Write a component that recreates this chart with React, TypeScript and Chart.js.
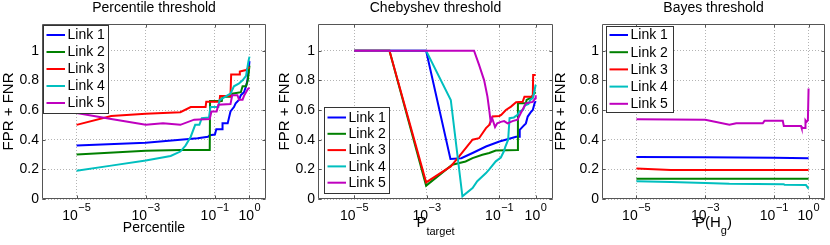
import { useEffect, useRef } from 'react';
import { Chart, registerables } from 'chart.js';

Chart.register(...registerables);

const FONT = '"Liberation Sans", Arial, Helvetica, sans-serif';

const LINK_LABELS = ['Link 1', 'Link 2', 'Link 3', 'Link 4', 'Link 5'];
const LINK_COLORS = ['#0000ff', '#008000', '#ff0000', '#00bfbf', '#bf00bf'];

const X_TICKS = [1e-5, 1e-3, 1e-1, 1];
const X_TICK_BASE = '10';
const X_TICK_EXPONENTS = ['−5', '−3', '−1', '0'];
const Y_TICKS = [0, 0.2, 0.4, 0.6, 0.8, 1];
const Y_TICK_LABELS = ['0', '0.2', '0.4', '0.6', '0.8', '1'];
const X_MIN = 1e-6;
const X_MAX = 3;
const Y_MIN = 0;
const Y_MAX = 1.18;

// ---- Percentile threshold ----
const PCT_X1 = [1e-5, 1e-3, 0.01, 0.0316, 0.0631, 0.0708, 0.1, 0.1096, 0.162, 0.166, 0.234, 0.282, 0.355, 0.398, 0.501, 0.562, 0.692, 0.794, 0.871, 0.933, 1];
const PCT_Y1 = [0.36, 0.38, 0.40, 0.41, 0.42, 0.43, 0.435, 0.47, 0.47, 0.51, 0.51, 0.59, 0.62, 0.645, 0.67, 0.70, 0.72, 0.76, 0.80, 0.86, 0.93];
const PCT_X2 = [1e-5, 1e-3, 0.01, 0.0708, 0.0724, 0.158, 0.166, 0.282, 0.316, 0.562, 0.631, 0.794, 0.891, 1];
const PCT_Y2 = [0.30, 0.325, 0.33, 0.33, 0.66, 0.66, 0.69, 0.69, 0.71, 0.72, 0.76, 0.76, 0.80, 0.90];
const PCT_X3 = [1e-5, 1e-4, 1e-3, 0.01, 0.02, 0.0537, 0.0562, 0.135, 0.141, 0.282, 0.295, 0.501, 0.525, 0.794, 0.891, 1];
const PCT_Y3 = [0.50, 0.56, 0.575, 0.585, 0.62, 0.62, 0.655, 0.655, 0.695, 0.695, 0.84, 0.84, 0.86, 0.87, 0.88, 0.89];
const PCT_X4 = [1e-5, 1e-4, 1e-3, 0.00525, 0.01, 0.0141, 0.02, 0.0269, 0.0355, 0.0417, 0.0676, 0.0741, 0.126, 0.135, 0.2, 0.282, 0.355, 0.501, 0.631, 0.794, 0.933, 1];
const PCT_Y4 = [0.19, 0.225, 0.26, 0.29, 0.32, 0.36, 0.42, 0.50, 0.50, 0.545, 0.55, 0.62, 0.62, 0.665, 0.69, 0.71, 0.76, 0.78, 0.80, 0.83, 0.93, 0.96];
const PCT_X5 = [1e-5, 1e-4, 1e-3, 0.00316, 0.01, 0.0251, 0.0708, 0.0794, 0.112, 0.126, 0.282, 0.316, 0.447, 0.501, 0.631, 0.708, 0.891, 1];
const PCT_Y5 = [0.58, 0.54, 0.50, 0.51, 0.50, 0.535, 0.54, 0.59, 0.59, 0.635, 0.64, 0.70, 0.70, 0.67, 0.67, 0.70, 0.74, 0.75];

// ---- Chebyshev threshold ----
const CHE_X1 = [1e-5, 9.55e-4, 0.00447, 0.00891, 0.0182, 0.0427, 0.1, 0.186, 0.288, 0.355, 0.363, 0.447, 0.537, 0.603, 0.759, 0.832, 0.933, 1];
const CHE_Y1 = [1, 1, 0.27, 0.275, 0.31, 0.354, 0.388, 0.406, 0.42, 0.42, 0.466, 0.49, 0.51, 0.556, 0.59, 0.60, 0.646, 0.66];
const CHE_X2 = [1e-5, 9.33e-5, 9.55e-4, 0.00501, 0.0117, 0.0182, 0.0339, 0.0525, 0.0794, 0.316, 0.324, 0.537, 0.562, 0.759, 0.891, 1];
const CHE_Y2 = [1, 1, 0.09, 0.231, 0.253, 0.276, 0.298, 0.31, 0.327, 0.33, 0.646, 0.646, 0.668, 0.685, 0.71, 0.72];
const CHE_X3 = [1e-5, 9.33e-5, 9.55e-4, 0.00457, 0.00776, 0.0182, 0.0275, 0.0427, 0.0525, 0.0646, 0.1, 0.112, 0.151, 0.209, 0.288, 0.437, 0.49, 0.832, 0.851, 1];
const CHE_Y3 = [1, 1, 0.112, 0.22, 0.287, 0.40, 0.41, 0.478, 0.50, 0.556, 0.56, 0.567, 0.60, 0.623, 0.652, 0.655, 0.69, 0.69, 0.836, 0.836];
const CHE_X4 = [1e-5, 9.55e-4, 0.00457, 0.00955, 0.0182, 0.0245, 0.0427, 0.0525, 0.0794, 0.1096, 0.132, 0.1445, 0.174, 0.1905, 0.251, 0.316, 0.355, 0.447, 0.501, 0.631, 0.708, 0.832, 0.891, 1];
const CHE_Y4 = [1, 1, 0.668, 0.018, 0.074, 0.12, 0.175, 0.20, 0.254, 0.28, 0.32, 0.35, 0.40, 0.545, 0.55, 0.567, 0.59, 0.60, 0.63, 0.64, 0.668, 0.68, 0.71, 0.77];
const CHE_X5 = [1e-5, 0.02, 0.0275, 0.038, 0.0468, 0.0525, 0.0575, 0.0631, 0.0759, 0.0871, 0.1096, 0.1349, 0.168, 0.229, 0.316, 0.389, 0.537, 0.832, 0.977, 1];
const CHE_Y5 = [1, 1, 0.904, 0.80, 0.69, 0.60, 0.52, 0.545, 0.485, 0.51, 0.52, 0.525, 0.51, 0.525, 0.535, 0.58, 0.645, 0.655, 0.68, 0.70];

// ---- Bayes threshold ----
const BAY_X1 = [1e-5, 1e-3, 0.1, 1];
const BAY_Y1 = [0.283, 0.281, 0.278, 0.274];
const BAY_X2 = [1e-5, 1e-3, 1];
const BAY_Y2 = [0.137, 0.136, 0.136];
const BAY_X3 = [1e-5, 1e-4, 1];
const BAY_Y3 = [0.205, 0.196, 0.195];
const BAY_X4 = [1e-5, 1e-4, 1e-3, 0.005, 0.19, 0.2, 0.84, 0.9, 1];
const BAY_Y4 = [0.119, 0.114, 0.108, 0.103, 0.10, 0.096, 0.094, 0.085, 0.07];
const BAY_X5 = [1e-5, 1e-3, 0.00501, 0.00794, 0.0468, 0.0525, 0.178, 0.191, 0.603, 0.631, 0.8, 0.813, 0.871, 0.955, 1];
const BAY_Y5 = [0.538, 0.534, 0.50, 0.511, 0.511, 0.527, 0.527, 0.493, 0.493, 0.478, 0.478, 0.53, 0.52, 0.53, 0.745];

type Seg = { text: string; size: number; dy: number };

const PANELS = [
  {
    title: 'Percentile threshold',
    xTitle: 'Percentile',
    xSegments: null as Seg[] | null,
    left: 42,
    right: 266,
    yAxisW: 42,
    legend: { x: 43, y: 25, w: 65, h: 88, row0: 35, rowH: 17 },
    series: [[PCT_X1, PCT_Y1], [PCT_X2, PCT_Y2], [PCT_X3, PCT_Y3], [PCT_X4, PCT_Y4], [PCT_X5, PCT_Y5]],
  },
  {
    title: 'Chebyshev threshold',
    xTitle: '',
    xSegments: [
      { text: 'P', size: 15, dy: 0 },
      { text: 'target', size: 11, dy: 8.5 },
    ],
    left: 318,
    right: 553,
    yAxisW: 42,
    legend: { x: 324, y: 107, w: 65, h: 86, row0: 117.5, rowH: 16.3 },
    series: [[CHE_X1, CHE_Y1], [CHE_X2, CHE_Y2], [CHE_X3, CHE_Y3], [CHE_X4, CHE_Y4], [CHE_X5, CHE_Y5]],
  },
  {
    title: 'Bayes threshold',
    xTitle: '',
    xSegments: [
      { text: 'P(H', size: 15, dy: 0 },
      { text: 'g', size: 11, dy: 7.5 },
      { text: ')', size: 15, dy: 0 },
    ],
    left: 602,
    right: 825,
    yAxisW: 50,
    legend: { x: 606, y: 26, w: 67, h: 86, row0: 35, rowH: 17.2 },
    series: [[BAY_X1, BAY_Y1], [BAY_X2, BAY_Y2], [BAY_X3, BAY_Y3], [BAY_X4, BAY_Y4], [BAY_X5, BAY_Y5]],
  },
];

const W = 830;
const H = 245;
const PLOT_TOP = 24;
const PLOT_BOTTOM = 199;

const framePlugin = {
  id: 'mframe',
  afterDraw(chart: any) {
    const { ctx, chartArea } = chart;
    const l = Math.round(chartArea.left) + 0.5;
    const r = Math.round(chartArea.right) - 0.5;
    const t = Math.round(chartArea.top) + 0.5;
    const b = Math.round(chartArea.bottom) - 0.5;
    ctx.save();
    ctx.strokeStyle = '#555555';
    ctx.lineWidth = 1;
    ctx.beginPath();
    ctx.rect(l, t, r - l, b - t);
    const tl = 3;
    const xs = chart.scales.x;
    for (const tk of xs.ticks) {
      const px = Math.round(xs.getPixelForValue(tk.value)) + 0.5;
      ctx.moveTo(px, b);
      ctx.lineTo(px, b - tl);
      ctx.moveTo(px, t);
      ctx.lineTo(px, t + tl);
    }
    const ys = chart.scales.y;
    for (const tk of ys.ticks) {
      const py = Math.round(ys.getPixelForValue(tk.value)) + 0.5;
      ctx.moveTo(l, py);
      ctx.lineTo(l + tl, py);
      ctx.moveTo(r, py);
      ctx.lineTo(r - tl, py);
    }
    ctx.stroke();
    ctx.restore();
  },
};

// Log-axis tick labels drawn as "10" with a raised exponent.
const powerTickPlugin = {
  id: 'mpowticks',
  afterDraw(chart: any) {
    const { ctx } = chart;
    const xs = chart.scales.x;
    ctx.save();
    ctx.fillStyle = '#000000';
    ctx.textBaseline = 'alphabetic';
    ctx.textAlign = 'left';
    const baseY = 219.5;
    xs.ticks.forEach((tk: any, i: number) => {
      const px = xs.getPixelForValue(tk.value);
      ctx.font = `14px ${FONT}`;
      const wb = ctx.measureText(X_TICK_BASE).width;
      ctx.font = `11px ${FONT}`;
      const exp = X_TICK_EXPONENTS[i];
      const we = ctx.measureText(exp).width;
      const x0 = px - (wb + we + 0.5) / 2;
      ctx.font = `14px ${FONT}`;
      ctx.fillText(X_TICK_BASE, x0, baseY);
      ctx.font = `11px ${FONT}`;
      ctx.fillText(exp, x0 + wb + 0.5, baseY - 8.5);
    });
    ctx.restore();
  },
};

const legendPlugin = {
  id: 'mlegend',
  afterDraw(chart: any, _args: any, opts: any) {
    if (!opts || opts.x === undefined) return;
    const { ctx } = chart;
    ctx.save();
    const bx = Math.round(opts.x) + 0.5;
    const by = Math.round(opts.y) + 0.5;
    ctx.fillStyle = '#ffffff';
    ctx.fillRect(bx, by, opts.w, opts.h);
    ctx.strokeStyle = '#333333';
    ctx.lineWidth = 1;
    ctx.strokeRect(bx, by, opts.w, opts.h);
    ctx.font = `14px ${FONT}`;
    ctx.textBaseline = 'middle';
    ctx.textAlign = 'left';
    chart.data.datasets.forEach((ds: any, i: number) => {
      const y = opts.row0 + i * opts.rowH;
      ctx.strokeStyle = ds.borderColor;
      ctx.lineWidth = 2;
      ctx.beginPath();
      ctx.moveTo(opts.x + 3.5, y);
      ctx.lineTo(opts.x + 22, y);
      ctx.stroke();
      ctx.fillStyle = '#000000';
      ctx.fillText(ds.label, opts.x + 24.5, y + 0.5);
    });
    ctx.restore();
  },
};

const xLabelPlugin = {
  id: 'mxlabel',
  afterDraw(chart: any, _args: any, opts: any) {
    if (!opts || !opts.segments) return;
    const { ctx, chartArea } = chart;
    const segs: Seg[] = opts.segments;
    ctx.save();
    ctx.fillStyle = '#000000';
    ctx.textBaseline = 'alphabetic';
    ctx.textAlign = 'left';
    let total = 0;
    const widths: number[] = [];
    for (const s of segs) {
      ctx.font = `${s.size}px ${FONT}`;
      const w = ctx.measureText(s.text).width;
      widths.push(w);
      total += w;
    }
    let x = (chartArea.left + chartArea.right) / 2 - total / 2;
    segs.forEach((s, i) => {
      ctx.font = `${s.size}px ${FONT}`;
      ctx.fillText(s.text, x, opts.baseline + s.dy);
      x += widths[i];
    });
    ctx.restore();
  },
};

function Panel({ p }: { p: (typeof PANELS)[number] }) {
  const ref = useRef<HTMLCanvasElement | null>(null);
  useEffect(() => {
    if (!ref.current) return;
    const datasets = p.series.map(([xs, ys], i) => ({
      label: LINK_LABELS[i],
      data: xs.map((x, j) => ({ x, y: ys[j] })),
      borderColor: LINK_COLORS[i],
      backgroundColor: LINK_COLORS[i],
      borderWidth: 2,
      pointRadius: 0,
      fill: false,
      tension: 0,
      order: 4 - i,
    }));
    const chart = new Chart(ref.current, {
      type: 'line',
      data: { datasets },
      plugins: [framePlugin, powerTickPlugin, legendPlugin, xLabelPlugin],
      options: {
        animation: false,
        responsive: false,
        events: [],
        layout: {
          padding: { left: p.left - p.yAxisW, right: W - p.right, top: 0, bottom: 0 },
        },
        plugins: {
          legend: { display: false },
          tooltip: { enabled: false },
          title: {
            display: true,
            text: p.title,
            fullSize: false,
            color: '#000000',
            font: { family: FONT, size: 14, weight: 'normal', lineHeight: 1.2 },
            padding: { top: 0, bottom: PLOT_TOP - 16.8 },
          },
          mlegend: p.legend,
          mxlabel: p.xSegments ? { segments: p.xSegments, baseline: 226.5 } : {},
        } as any,
        scales: {
          x: {
            type: 'logarithmic',
            min: X_MIN,
            max: X_MAX,
            afterBuildTicks: (s: any) => {
              s.ticks = X_TICKS.map((v) => ({ value: v }));
            },
            afterFit: (s: any) => {
              s.height = H - PLOT_BOTTOM;
            },
            ticks: { display: false, autoSkip: false, maxRotation: 0 },
            grid: { color: '#b4b4b4', lineWidth: 1, drawTicks: false },
            border: { display: false, dash: [1, 2] },
            title: {
              display: !!p.xTitle,
              text: p.xTitle,
              color: '#000000',
              font: { family: FONT, size: 14, lineHeight: 1.2 },
              padding: { top: 0, bottom: 8.5 },
            },
          },
          y: {
            type: 'linear',
            min: Y_MIN,
            max: Y_MAX,
            afterBuildTicks: (s: any) => {
              s.ticks = Y_TICKS.map((v) => ({ value: v }));
            },
            afterFit: (s: any) => {
              s.width = p.yAxisW;
            },
            ticks: {
              padding: 3,
              color: '#000000',
              font: { family: FONT, size: 14, lineHeight: 1.2 },
              callback: (_v: any, i: number) => Y_TICK_LABELS[i],
            },
            grid: { color: '#b4b4b4', lineWidth: 1, drawTicks: false },
            border: { display: false, dash: [1, 2] },
            title: {
              display: true,
              text: 'FPR + FNR',
              color: '#000000',
              font: { family: FONT, size: 15, lineHeight: 1.2 },
              padding: { top: 0, bottom: 0 },
            },
          },
        },
      } as any,
    });
    return () => chart.destroy();
  }, [p]);
  return (
    <canvas
      ref={ref}
      width={W}
      height={H}
      style={{ position: 'absolute', left: 0, top: 0, width: W, height: H }}
    />
  );
}

export default function App() {
  return (
    <div style={{ position: 'fixed', left: 0, top: 0, width: W, height: H, background: '#ffffff' }}>
      {PANELS.map((p, i) => (
        <Panel key={i} p={p} />
      ))}
    </div>
  );
}
